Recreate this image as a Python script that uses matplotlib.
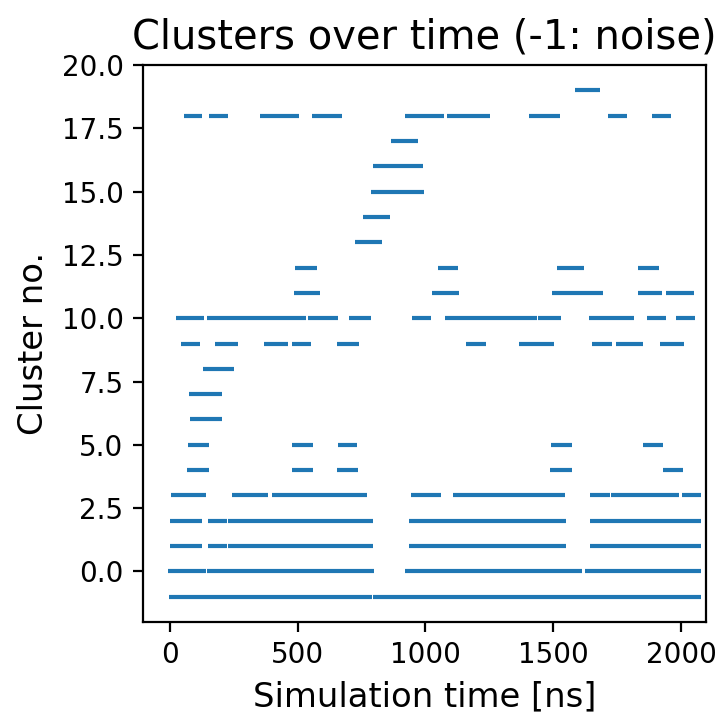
import numpy as np
import matplotlib
matplotlib.use("Agg")
from matplotlib import pyplot as plt

# cluster membership over time: one run per row, start/end in ns
cluster = [19,
           18, 18, 18, 18, 18, 18, 18, 18, 18,
           17, 16, 15, 14, 13,
           12, 12, 12, 12,
           11, 11, 11, 11, 11,
           10, 10, 10, 10, 10, 10, 10, 10, 10, 10,
           9, 9, 9, 9, 9, 9, 9, 9, 9, 9,
           8, 7, 6,
           5, 5, 5, 5, 5,
           4, 4, 4, 4, 4,
           3, 3, 3, 3, 3, 3, 3, 3, 3,
           2, 2, 2, 2, 2,
           1, 1, 1, 1, 1,
           0, 0, 0, 0, 0,
           -1, -1, -1]
t_start = [1585,
           55, 154, 355, 558, 920, 1084, 1406, 1714, 1887,
           866, 795, 787, 756, 725,
           492, 1050, 1515, 1831,
           487, 1026, 1495, 1830, 1942,
           25, 148, 540, 702, 949, 1078, 1440, 1639, 1867, 1980,
           45, 179, 367, 478, 656, 1160, 1366, 1652, 1745, 1917,
           132, 76, 80,
           71, 478, 660, 1491, 1850,
           68, 478, 655, 1487, 1930,
           5, 244, 401, 630, 944, 1106, 1642, 1726, 2003,
           2, 150, 229, 936, 1642,
           2, 150, 229, 936, 1642,
           -6, 147, 920, 1562, 1623,
           -2, 144, 795]
t_end = [1683,
         128, 228, 506, 675, 1073, 1252, 1525, 1788, 1960,
         971, 991, 995, 862, 831,
         575, 1128, 1620, 1913,
         587, 1131, 1695, 1925, 2050,
         135, 532, 660, 786, 1021, 1435, 1532, 1815, 1941, 2053,
         118, 267, 462, 552, 741, 1236, 1503, 1730, 1851, 2010,
         252, 205, 206,
         153, 561, 734, 1572, 1929,
         154, 561, 737, 1572, 2007,
         142, 386, 629, 772, 1061, 1544, 1721, 1992, 2077,
         127, 226, 795, 1548, 2077,
         127, 225, 795, 1548, 2077,
         143, 799, 1562, 1611, 2077,
         142, 792, 2077]

plt.rcParams["font.family"] = "DejaVu Sans"

fig = plt.figure(figsize=(3.59, 3.565), dpi=200)
ax = fig.add_axes([0.1992, 0.1276, 0.7841, 0.7812])

ax.hlines(cluster, t_start, t_end, colors="#1f77b4", linewidth=1.5)

ax.set_xlim(-104, 2097)
ax.set_ylim(-2, 20)
ax.set_xticks([0, 500, 1000, 1500, 2000])
ax.set_yticks(np.arange(0, 20.1, 2.5))
ax.yaxis.set_major_formatter(matplotlib.ticker.FormatStrFormatter("%.1f"))
ax.tick_params(labelsize=10)

ax.set_xlabel("Simulation time [ns]", fontsize=12.2)
ax.set_ylabel("Cluster no.", fontsize=12.2)
ax.set_title("Clusters over time (-1: noise)", fontsize=14.4)

plt.savefig("out.png", dpi=200)
